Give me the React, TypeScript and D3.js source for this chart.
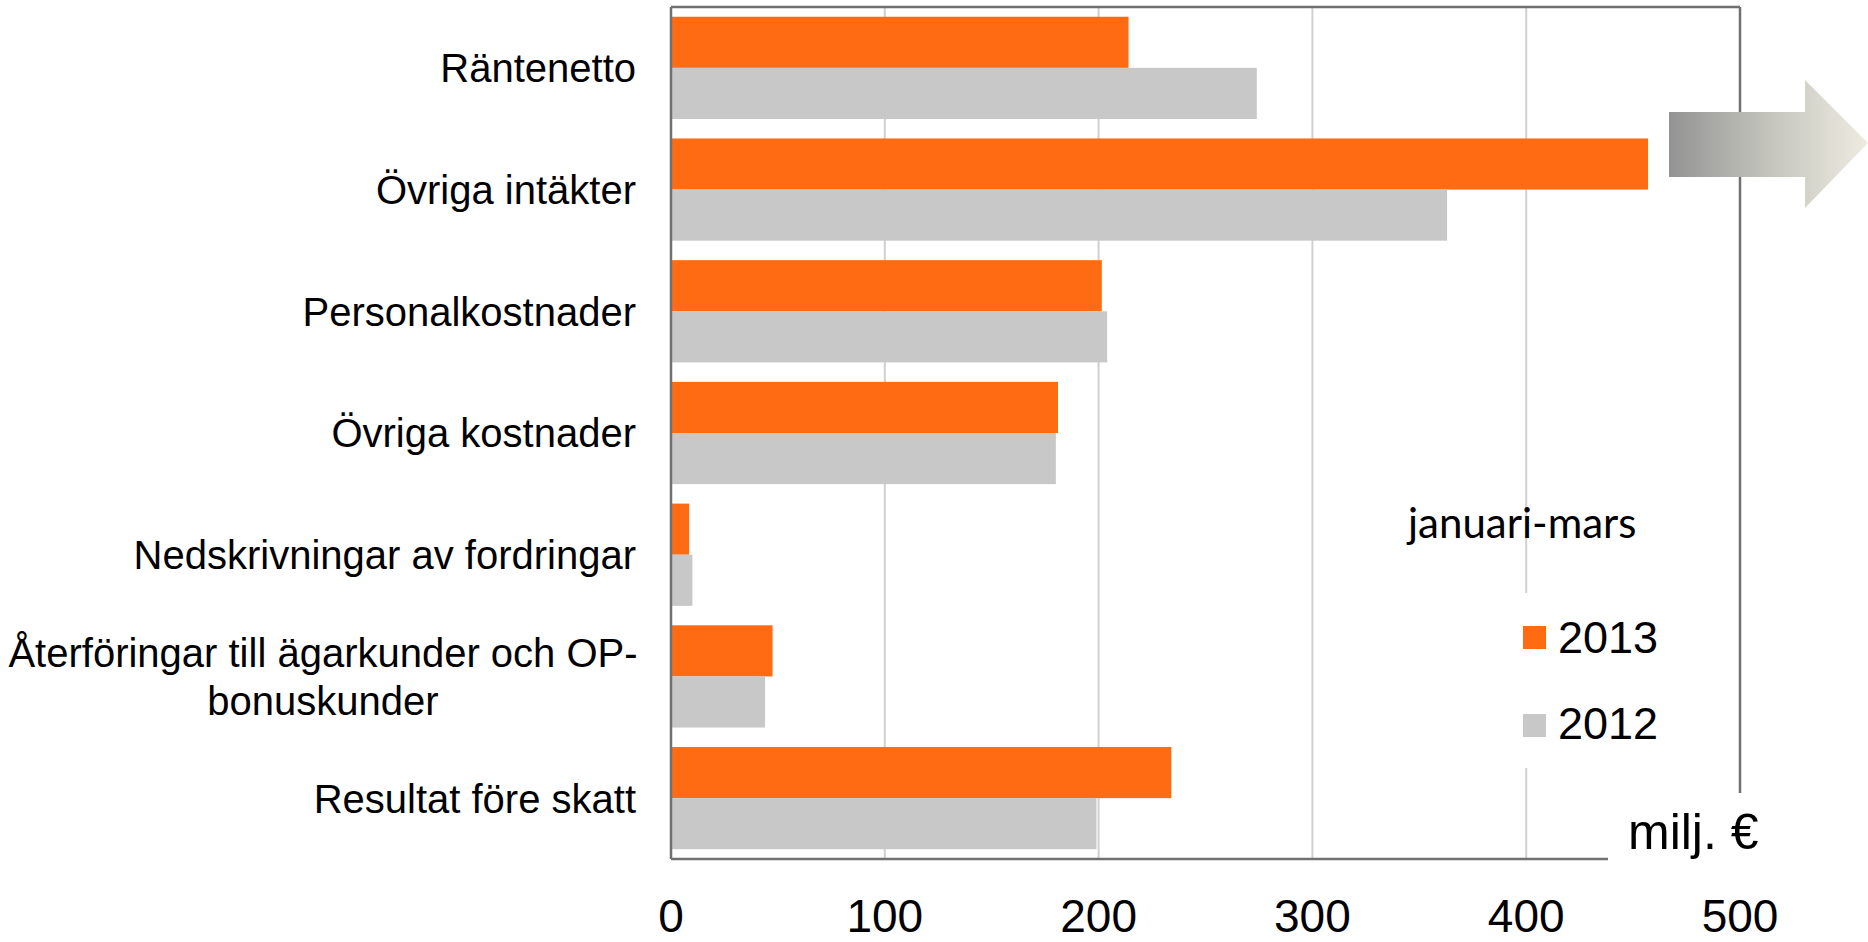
import React, { useEffect } from "react";
import * as d3 from "d3";

const categories = [
  "Räntenetto",
  "Övriga intäkter",
  "Personalkostnader",
  "Övriga kostnader",
  "Nedskrivningar av fordringar",
  "Återföringar till ägarkunder och OP-bonuskunder",
  "Resultat före skatt",
];
const categoryLines: string[][] = [
  ["Räntenetto"],
  ["Övriga intäkter"],
  ["Personalkostnader"],
  ["Övriga kostnader"],
  ["Nedskrivningar av fordringar"],
  ["Återföringar till ägarkunder och OP-", "bonuskunder"],
  ["Resultat före skatt"],
];
const values2013 = [214, 457, 201.5, 181, 8.5, 47.5, 234];
const values2012 = [274, 363, 204, 180, 10, 44, 199];
const seriesNames = ["2013", "2012"];
const seriesColors = ["#FF6B12", "#C8C8C8"];
const xTicks = [0, 100, 200, 300, 400, 500];
const legendTitle = "januari-mars";
const unitLabel = "milj. €";

const W = 1868;
const H = 942;
const plotLeft = 671;
const plotRight = 1740;
const plotTop = 7;
const plotBottom = 859;

export default function App() {
  useEffect(() => {
    document.body.style.margin = "0";
    document.body.style.overflow = "hidden";
  }, []);

  const x = d3.scaleLinear().domain([0, 500]).range([plotLeft, plotRight]);
  const y = d3
    .scaleBand<string>()
    .domain(categories)
    .range([plotTop, plotBottom])
    .paddingInner(0.16)
    .paddingOuter(0.08);
  const ySub = d3
    .scaleBand<string>()
    .domain(seriesNames)
    .range([0, y.bandwidth()]);

  const seriesValues = [values2013, values2012];
  const font = "'Liberation Sans', Arial, sans-serif";

  return (
    <svg
      width={W}
      height={H}
      style={{ position: "absolute", left: 0, top: 0, background: "#fff" }}
    >
      <defs>
        <linearGradient id="arrowGrad" x1="0" x2="1" y1="0" y2="0">
          <stop offset="0" stopColor="#939393" />
          <stop offset="0.5" stopColor="#c4c4bd" />
          <stop offset="1" stopColor="#eeece1" />
        </linearGradient>
      </defs>

      {/* gridlines */}
      {xTicks
        .filter((t) => t > 0 && t < 500)
        .map((t) => (
          <line
            key={"g" + t}
            x1={x(t)}
            x2={x(t)}
            y1={plotTop}
            y2={plotBottom}
            stroke="#D0D0D0"
            strokeWidth={2}
          />
        ))}

      {/* bars */}
      {categories.map((c, i) =>
        seriesNames.map((s, si) => (
          <rect
            key={c + s}
            x={x(0)}
            y={(y(c) as number) + (ySub(s) as number)}
            width={x(seriesValues[si][i]) - x(0)}
            height={ySub.bandwidth()}
            fill={seriesColors[si]}
          />
        ))
      )}

      {/* frame */}
      <line x1={plotLeft} x2={plotRight} y1={plotTop} y2={plotTop} stroke="#707070" strokeWidth={2.5} />
      <line x1={plotRight} x2={plotRight} y1={plotTop} y2={plotBottom} stroke="#707070" strokeWidth={2.5} />
      <line x1={plotLeft} x2={plotRight} y1={plotBottom} y2={plotBottom} stroke="#707070" strokeWidth={2.5} />
      <line x1={plotLeft} x2={plotLeft} y1={plotTop} y2={plotBottom} stroke="#707070" strokeWidth={2.5} />

      {/* category labels */}
      {categoryLines.map((lines, i) => {
        const cy = (y(categories[i]) as number) + y.bandwidth() / 2;
        if (lines.length === 1) {
          return (
            <text
              key={"c" + i}
              x={636}
              y={cy}
              dy="0.36em"
              textAnchor="end"
              fontFamily={font}
              fontSize={40}
              fill="#000"
            >
              {lines[0]}
            </text>
          );
        }
        return (
          <text
            key={"c" + i}
            x={323}
            y={cy - 24}
            textAnchor="middle"
            fontFamily={font}
            fontSize={40}
            fill="#000"
          >
            {lines.map((l, li) => (
              <tspan key={li} x={323} dy={li === 0 ? "0.36em" : 48}>
                {l}
              </tspan>
            ))}
          </text>
        );
      })}

      {/* tick labels */}
      {xTicks.map((t) => (
        <text
          key={"t" + t}
          x={x(t)}
          y={932}
          textAnchor="middle"
          fontFamily={font}
          fontSize={46}
          fill="#000"
        >
          {t}
        </text>
      ))}

      {/* legend box */}
      <rect x={1505} y={593} width={200} height={175} fill="#fff" />
      {seriesNames.map((s, si) => (
        <g key={"l" + s}>
          <rect x={1523} y={626 + si * 88} width={23} height={23} fill={seriesColors[si]} />
          <text x={1558} y={653 + si * 86} fontFamily={font} fontSize={45} fill="#000">
            {s}
          </text>
        </g>
      ))}
      <text x={1408} y={538} fontFamily="Lato, 'Open Sans', sans-serif" fontSize={42} fill="#000">
        {legendTitle}
      </text>

      {/* unit label */}
      <rect x={1608} y={793} width={190} height={90} fill="#fff" />
      <text x={1628} y={849} fontFamily={font} fontSize={50} fill="#000">
        {unitLabel}
      </text>

      {/* arrow */}
      <path
        d="M1669,112 L1805,112 L1805,80 L1868,143 L1805,208 L1805,177 L1669,177 Z"
        fill="url(#arrowGrad)"
      />
    </svg>
  );
}
